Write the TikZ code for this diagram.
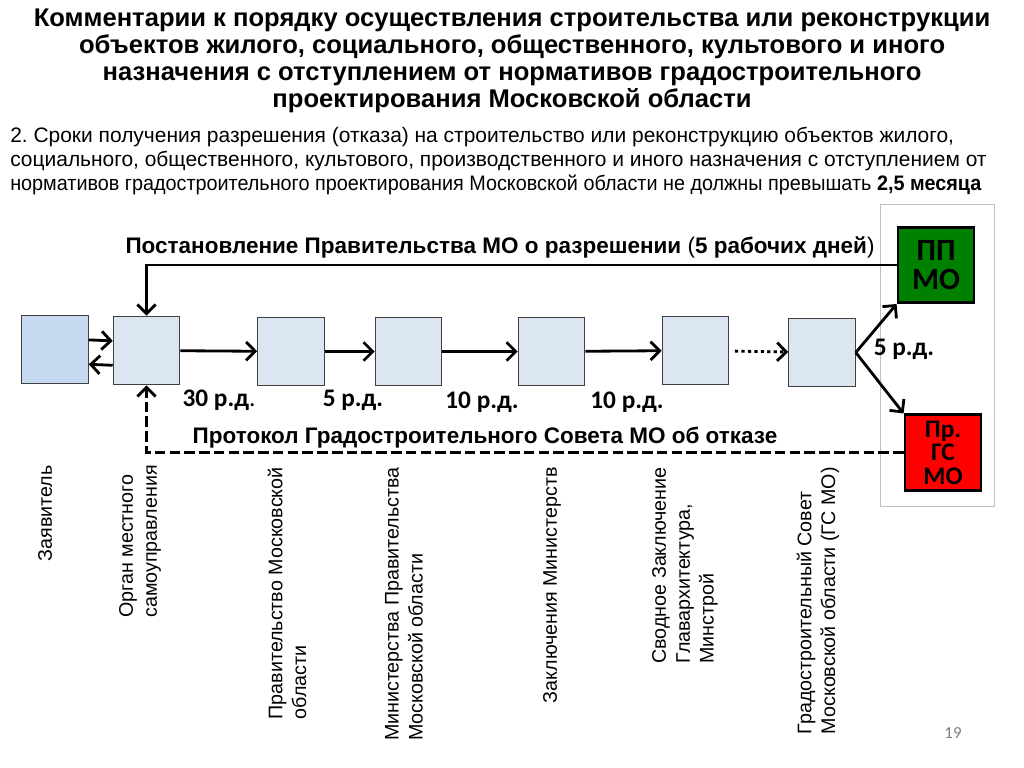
\documentclass[tikz,border=0pt]{standalone}
\usepackage{fontspec}
\setmainfont{Liberation Sans}
\newfontfamily\calibri{Carlito}
\usepackage{xcolor}
\usetikzlibrary{arrows.meta, positioning, calc}
\frenchspacing

\definecolor{boxfill}{RGB}{220,230,242}
\definecolor{zavfill}{RGB}{198,217,241}
\definecolor{boxline}{RGB}{64,64,64}
\definecolor{ppgreen}{RGB}{0,128,0}
\definecolor{frameline}{RGB}{191,191,191}

\begin{document}
\begin{tikzpicture}[
    x=0.025cm, y=-0.025cm,
    stage/.style={rectangle, draw=boxline, line width=0.8pt, fill=boxfill,
                  minimum width=1.66cm, minimum height=1.72cm, inner sep=0pt},
    result/.style={rectangle, draw=black, line width=2pt, minimum width=1.9cm,
                   minimum height=1.88cm, inner sep=0pt, align=center, font=\calibri\bfseries},
    days/.style={font=\calibri\bfseries\fontsize{18}{20}\selectfont},
    who/.style={rotate=90, anchor=east, align=left, inner sep=0pt,
                font=\fontsize{14}{17}\selectfont},
    arrow/.style={line width=2pt, -{Straight Barb[length=6.5pt,width=13pt]}}
  ]
  \useasboundingbox (0,0) rectangle (1024,768);

  % title and paragraph
  \node (title) [align=center, font=\bfseries\fontsize{18.2}{19.1}\selectfont] at (512,61)
    {Комментарии к порядку осуществления строительства или реконструкции\\
     объектов жилого, социального, общественного, культового и иного\\
     назначения с отступлением от нормативов градостроительного\\
     проектирования Московской области};
  \node (para) [anchor=west, align=left, inner sep=0pt, font=\fontsize{14.9}{17}\selectfont] at (10,161)
    {2. Сроки получения разрешения (отказа) на строительство или реконструкцию объектов жилого,\\
     социального, общественного, культового, производственного и иного назначения с отступлением от\\
     \scalebox{0.945}[1]{нормативов градостроительного проектирования Московской области не должны превышать \textbf{2,5 месяца}}};

  % frame round the two results
  \node (frame) [draw=frameline, line width=0.6pt, minimum width=2.85cm, minimum height=7.55cm,
                 inner sep=0pt] at (937,355) {};

  % stages
  \node (zav)  [stage, fill=zavfill] at (55,349.5)  {};
  \node (org)  [stage] at (146.5,350.5) {};
  \node (prav) [stage] at (291,351.5)   {};
  \node (min)  [stage] at (408.5,351.5) {};
  \node (zakl) [stage] at (551.5,351.5) {};
  \node (svod) [stage] at (695.5,350.5) {};
  \node (gs)   [stage] at (822,352.5)   {};

  \node (ppmo) [result, fill=ppgreen, font=\calibri\bfseries\fontsize{22}{20.6}\selectfont] at (936,265) {ПП\\МО};
  \node (prgs) [result, fill=red, font=\calibri\bfseries\fontsize{18}{16.7}\selectfont] at (943,452.5) {Пр.\\ГС\\МО};

  % connectors
  \draw [arrow] ([yshift=0.24cm]zav.east) -- ([yshift=0.24cm]org.west);
  \draw [arrow] ([yshift=-0.37cm]org.west) -- ([yshift=-0.37cm]zav.east);
  \draw [arrow] (org)  -- (prav);
  \draw [arrow] (prav) -- (min);
  \draw [arrow] (min)  -- (zakl);
  \draw [arrow] (zakl) -- (svod);
  \draw [arrow, dash pattern=on 2.3pt off 2.3pt, shorten <=4pt] (svod) -- (gs);
  \draw [arrow] (gs.east) -- (ppmo.south west);
  \draw [arrow] (gs.east) -- (prgs.north west);
  \draw [arrow] (ppmo.west) -| (org.north);
  \draw [arrow, dash pattern=on 7.5pt off 3pt] (prgs.west) -| (org.south);

  % labels
  \node (yes) [font=\bfseries\fontsize{16}{18}\selectfont] at (500,247)
    {Постановление Правительства МО о разрешении \mdseries(\bfseries5 рабочих дней\mdseries)};
  \node (no) [font=\bfseries\fontsize{16}{18}\selectfont] at (485,438)
    {Протокол Градостроительного Совета МО об отказе};
  \node (d1) [days] at (219,400) {30 р.д\mdseries.};
  \node (d2) [days] at (353,400) {5 р.д.};
  \node (d3) [days] at (482,402) {10 р.д.};
  \node (d4) [days] at (627,402) {10 р.д.};
  \node (d5) [days] at (904,349) {5 р.д.};

  % who does it
  \node (w1) [who] at (45,465)  {Заявитель};
  \node (w2) [who] at (140,465) {Орган местного\\самоуправления};
  \node (w3) [who] at (287,467) {Правительство Московской\\области};
  \node (w4) [who] at (404,467) {Министерства Правительства\\Московской области};
  \node (w5) [who] at (552,467) {Заключения Министерств};
  \node (w6) [who] at (685,467) {Сводное Заключение\\Главархитектура,\\Минстрой};
  \node (w7) [who] at (818,467) {Градостроительный Совет\\Московской области (ГС МО)};

  \node (page) [text=gray, font=\calibri\fontsize{12}{14}\selectfont] at (953,733) {19};
\end{tikzpicture}
\end{document}
